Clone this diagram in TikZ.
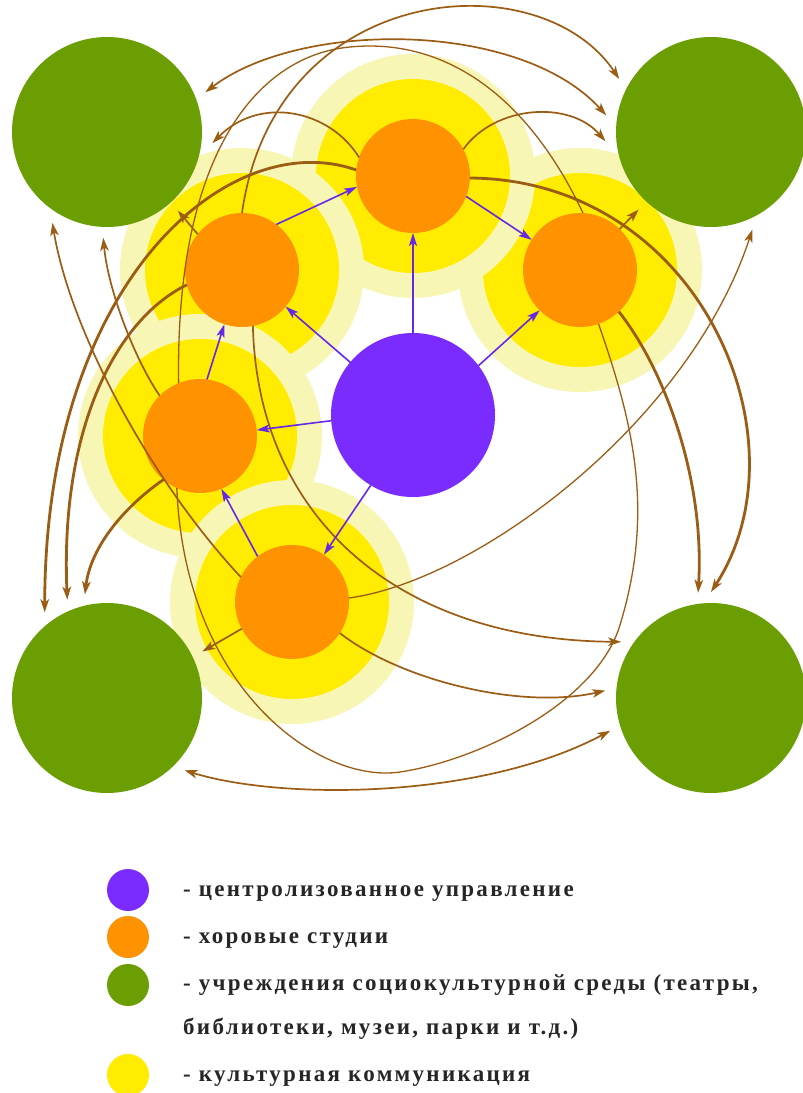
\documentclass[tikz,border=0pt]{standalone}
\usepackage{fontspec}
\setmainfont{Liberation Serif}
\newfontfamily\legfont{Liberation Serif Bold}[LetterSpace=10]
\usetikzlibrary{arrows.meta}
\definecolor{grn}{RGB}{106,158,2}
\definecolor{org}{RGB}{255,146,0}
\definecolor{pur}{RGB}{122,44,255}
\definecolor{parrow}{RGB}{100,40,230}
\definecolor{yel}{RGB}{255,236,0}
\definecolor{paleyel}{RGB}{248,246,180}
\definecolor{brn}{RGB}{155,92,20}
\tikzset{
  gnode/.style={circle, fill=grn, minimum size=190pt, inner sep=0pt, outer sep=11pt},
  onode/.style={circle, fill=org, minimum size=114pt, inner sep=0pt, outer sep=0pt},
  pnode/.style={circle, fill=pur, minimum size=164pt, inner sep=0pt, outer sep=0pt},
  bhead/.style={-{Stealth[length=13pt,width=8.5pt,inset=3.5pt]}},
  brnline/.style={draw=brn, line width=1.7pt, bhead},
  brnthin/.style={draw=brn, line width=1.3pt, bhead},
  brnthick/.style={draw=brn, line width=2.8pt, bhead},
  bothheads/.style={{Stealth[length=13pt,width=8.5pt,inset=3.5pt]}-{Stealth[length=13pt,width=8.5pt,inset=3.5pt]}},
  noheads/.style={-},
  parr/.style={draw=parrow, line width=1.6pt, -{Stealth[length=13pt,width=8pt,inset=3pt]}},
  halopale/.style={fill=paleyel},
  haloyel/.style={fill=yel},
  legmark/.style={circle, minimum size=42pt, inner sep=0pt},
  legtext/.style={anchor=base west, inner sep=0pt, text=black!85, font=\legfont\fontsize{23}{28}\selectfont}
}
\begin{document}
\begin{tikzpicture}[x=1pt,y=-1pt]
\useasboundingbox[fill=white] (0,0) rectangle (803,1093);
% centres
\coordinate (c1) at (413,176);
\coordinate (c2) at (242,270);
\coordinate (c3) at (580,270);
\coordinate (c4) at (200,436);
\coordinate (c5) at (292,602);
% halos (cultural communication)
\foreach \c in {c3,c1,c2,c4,c5}{
  \fill[halopale] (\c) circle[radius=122pt];
  \fill[haloyel] (\c) circle[radius=97pt];
}
% nodes
\node[gnode] (tl) at (107,132) {};
\node[gnode] (tr) at (711,132) {};
\node[gnode] (bl) at (107,698) {};
\node[gnode] (br) at (711,698) {};
\node[pnode] (pu) at (413,415) {};
\node[onode] (o1) at (c1) {};
\node[onode] (o2) at (c2) {};
\node[onode] (o3) at (c3) {};
\node[onode] (o4) at (c4) {};
\node[onode] (o5) at (c5) {};
% brown connectors
\draw[brnline, bothheads] (tl.22) .. controls (300,20) and (520,20) .. (tr.171);
\draw[brnline] (o2.90) .. controls (275,-20) and (540,-40) .. (tr.150);
\draw[brnline] (o1.161) .. controls (330,110) and (260,95) .. (tl.354);
\draw[brnline] (o1.28) .. controls (495,105) and (570,100) .. (tr.185);
\draw[brnthin, noheads] (o4.112) .. controls (175,150) and (260,55) .. (350,47)
   .. controls (440,38) and (525,90) .. (o3.87);
\draw[brnthick] (o1.174) .. controls (230,125) and (45,280) .. (bl.126);
\draw[brnthick] (o2.195) .. controls (115,320) and (60,430) .. (bl.112);
\draw[brnthick] (o4.230) .. controls (120,510) and (90,550) .. (bl.102);
\draw[brnline] (o2.141) -- (tl.312);
\draw[brnline] (o3.46) -- (tr.227);
\draw[brnthin] (o5.4) .. controls (480,580) and (690,420) .. (tr.293);
\draw[brnthin, noheads] (o3.289) .. controls (633,423) and (655,510) .. (620,625)
   .. controls (597,702) and (480,760) .. (400,772)
   .. controls (320,784) and (185,690) .. (o4.246);
\draw[brnthick] (o3.313) .. controls (665,370) and (705,480) .. (br.97.6);
\draw[brnthick] (o1.358) .. controls (700,180) and (810,440) .. (br.90.5);
\draw[brnline, bothheads] (bl.317) .. controls (280,800) and (480,800) .. (br.198);
\draw[brnline] (o5.154) .. controls (150,480) and (70,330) .. (tl.239);
\draw[brnline] (o4.135) .. controls (135,360) and (108,290) .. (tl.268);
\draw[brnline] (o2.281) .. controls (258,520) and (400,640) .. (br.148);
\draw[brnline] (o5.208) -- (bl.26.6);
\draw[brnline] (o5.327) .. controls (400,680) and (520,710) .. (br.176);
% purple arrows (centralised management)
\draw[parr] (pu.90) -- (o1.270);
\draw[parr] (pu.140) -- (o2.320);
\draw[parr] (pu.37) -- (o3.225);
\draw[parr] (pu.184) -- (o4.6);
\draw[parr] (pu.239) -- (o5.56);
\draw[parr] (o4.83) -- (o2.252);
\draw[parr] (o2.53) -- (o1.191);
\draw[parr] (o1.339) -- (o3.148);
\draw[parr] (o5.127) -- (o4.292);
% legend
\node[legmark, fill=pur] (m1) at (128,890) {};
\node[legmark, fill=org] (m2) at (128,937) {};
\node[legmark, fill=grn] (m3) at (128,985) {};
\node[legmark, fill=yel] (m4) at (128,1075) {};
\node[legtext] (t1) at (183,896) {- центролизованное управление};
\node[legtext] (t2) at (183,943) {- хоровые студии};
\node[legtext] (t3) at (183,990) {- учреждения социокультурной среды (театры,};
\node[legtext] (t4) at (183,1034) {библиотеки, музеи, парки и т.д.)};
\node[legtext] (t5) at (183,1081) {- культурная коммуникация};
\end{tikzpicture}
\end{document}
